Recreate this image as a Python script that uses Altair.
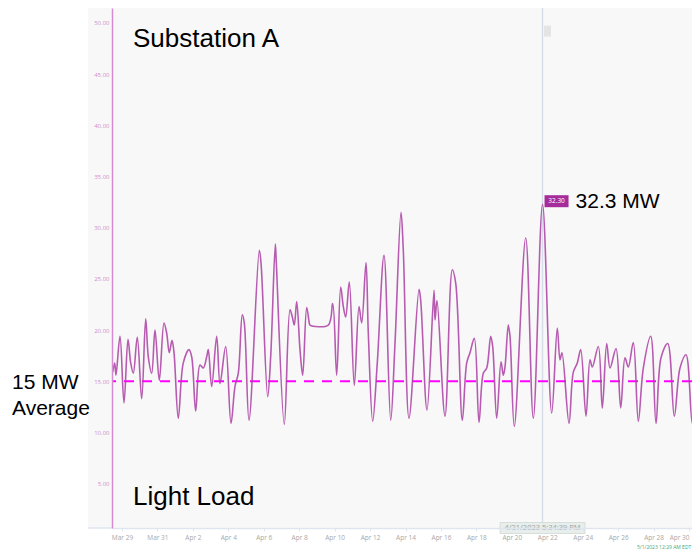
import altair as alt
import pandas as pd
import numpy as np

# Days since 2023-03-28 00:00 and load in MW
t_days = [0.475, 0.588, 0.661, 0.887, 1.113, 1.339, 1.491, 1.638, 1.863, 2.112,
          2.337, 2.484, 2.676, 2.862, 3.105, 3.370, 3.523, 3.669, 3.822, 3.935,
          4.177, 4.459, 4.781, 4.933, 5.159, 5.402, 5.588, 5.780, 5.870, 6.062,
          6.344, 6.531, 6.852, 7.151, 7.377, 7.563, 7.789, 7.902, 8.167, 8.748,
          8.844, 9.222, 9.391, 9.651, 9.708, 10.159, 10.481, 10.611, 10.724, 10.859,
          11.045, 11.198, 11.423, 11.570, 11.610, 12.642, 12.891, 13.116, 13.342, 13.489,
          13.624, 13.827, 14.110, 14.375, 14.527, 14.770, 14.900, 15.148, 15.407, 15.786,
          16.164, 16.406, 16.745, 16.875, 17.196, 17.761, 17.857, 18.212, 18.607, 18.664,
          18.777, 19.228, 19.640, 19.832, 20.205, 20.453, 20.639, 20.882, 21.147, 21.390,
          21.582, 21.807, 21.920, 22.146, 22.389, 22.518, 22.614, 22.800, 22.896, 23.139,
          23.782, 24.211, 24.732, 25.249, 25.565, 25.718, 25.831, 26.226, 26.469, 26.695,
          26.886, 27.185, 27.411, 27.541, 27.880, 28.105, 28.354, 28.540, 28.879, 29.144,
          29.386, 29.573, 29.855, 30.137, 30.419, 30.837, 31.135, 31.418, 31.796, 32.168,
          32.490, 32.829, 33.184, 33.523, 33.620]
mw = [15.9, 16.8, 15.6, 19.4, 12.9, 19.1, 16.8, 15.8, 19.3, 13.3,
      21.1, 17.4, 15.8, 20.0, 15.1, 20.7, 19.7, 17.8, 19.0, 17.8,
      11.4, 16.8, 18.1, 17.4, 12.1, 16.6, 16.3, 17.4, 18.1, 14.5,
      19.4, 14.8, 18.4, 10.9, 14.5, 15.8, 21.5, 20.7, 11.2, 27.8,
      26.6, 13.5, 17.4, 28.4, 26.6, 10.8, 22.0, 21.3, 20.5, 22.8,
      18.1, 15.6, 22.2, 20.7, 20.5, 20.5, 22.6, 15.6, 24.2, 22.3,
      21.3, 24.7, 14.6, 22.3, 20.7, 26.6, 19.7, 11.1, 16.8, 27.3,
      11.2, 18.7, 31.5, 27.8, 11.4, 24.0, 22.9, 12.2, 23.9, 21.0,
      22.9, 11.6, 25.9, 24.6, 11.2, 16.8, 17.8, 19.2, 11.0, 15.8,
      16.3, 19.4, 18.4, 11.4, 16.9, 15.6, 16.4, 20.5, 19.4, 10.6,
      29.0, 11.4, 32.3, 11.9, 20.2, 17.1, 17.8, 10.9, 15.9, 16.8,
      18.1, 11.6, 17.1, 16.4, 18.4, 12.4, 18.7, 16.3, 18.2, 12.4,
      17.3, 16.4, 18.8, 11.1, 16.3, 19.4, 10.9, 17.3, 18.7, 11.6,
      16.3, 17.6, 10.9, 17.6, 16.8]

average_mw = 15
peak_mw = 32.3
cursor_day = 24.732   # 4/21/2023 5:34:39 PM
cursor_label = "4/21/2023 5:34:39 PM"
stamp_label = "5/1/2023 12:29 AM EDT"
y_ticks = [5, 10, 15, 20, 25, 30, 35, 40, 45, 50]

DAY_MS = 86400000.0
base_ms = (pd.Timestamp("2023-03-28") - pd.Timestamp("1970-01-01")).total_seconds() * 1000.0

df = pd.DataFrame({"time": base_ms + np.array(t_days) * DAY_MS, "mw": mw})
cur = pd.DataFrame({"time": [base_ms + cursor_day * DAY_MS], "mw": [peak_mw]})
one = pd.DataFrame({"a": [0]})

x_vals = [alt.DateTime(year=2023, month=3, date=d, utc=True) for d in (29, 31)] + \
         [alt.DateTime(year=2023, month=4, date=d, utc=True) for d in range(2, 31, 2)]

x_scale = alt.Scale(type="utc",
                    domain=[alt.DateTime(year=2023, month=3, date=28, hours=10, minutes=28, utc=True),
                            alt.DateTime(year=2023, month=4, date=30, hours=4, minutes=0, utc=True)])
y_scale = alt.Scale(domain=[0.68, 51.46], nice=False, zero=False)

x_axis = alt.Axis(values=x_vals, format="%b %-d", title=None, labelColor="#a8a8a8",
                  labelFontSize=6.5, labelFont="Open Sans", domainColor="#dfe5ef",
                  domainWidth=1.5, tickColor="#dfe5ef", tickSize=3, labelPadding=3,
                  grid=False, labelOverlap=False, zindex=1,
                  labelAlign=alt.expr("datum.index > 0.99 ? 'right' : 'center'"))
y_axis = alt.Axis(values=y_ticks, format=".2f", title=None, labelColor="#d08ccd",
                  labelFontSize=6, labelFont="Open Sans", domainColor="#d58bd1",
                  domainWidth=1.5, ticks=False, labelPadding=3, grid=False, zindex=1)

X = alt.X("time:T", scale=x_scale, axis=x_axis)
Y = alt.Y("mw:Q", scale=y_scale, axis=y_axis)

panel_ext = alt.Chart(one).mark_rect(color="#f8f8f8").encode(
    x=alt.value(-24), x2=alt.value(0), y=alt.value(0), y2=alt.value(520))
xline_ext = alt.Chart(one).mark_rule(color="#dfe5ef", strokeWidth=1.5).encode(
    x=alt.value(-24), x2=alt.value(0), y=alt.value(520))

cursor = alt.Chart(cur).mark_rule(color="#d6dee9", strokeWidth=1.5).encode(x=X)
avg = alt.Chart(one).mark_rule(color="#ff00ff", strokeWidth=2, strokeDash=[10, 8]).encode(
    y=alt.Y(datum=average_mw, type="quantitative", scale=y_scale, axis=y_axis))

line = alt.Chart(df).mark_line(color="#ac3fa5", strokeWidth=1.6, opacity=0.85,
                               interpolate="catmull-rom", clip=True).encode(x=X, y=Y)

top_box = alt.Chart(cur).mark_rect(width=7, height=11, color="#e4e4e4", xOffset=5).encode(
    x=X, y=alt.Y(datum=49.2, type="quantitative", scale=y_scale, axis=y_axis))
val_box = alt.Chart(cur).mark_rect(width=24, height=12, color="#a62c9b", xOffset=14,
                                   yOffset=-3).encode(x=X, y=Y)
val_txt = alt.Chart(cur).mark_text(text="32.30", color="white", fontSize=6.5, dx=14, dy=-3,
                                   font="Open Sans").encode(x=X, y=Y)
peak_txt = alt.Chart(cur).mark_text(text="32.3 MW", color="black", fontSize=21, align="left",
                                    baseline="alphabetic", dx=33, dy=4,
                                    font="Liberation Sans").encode(x=X, y=Y)

bot_box = alt.Chart(cur).mark_rect(width=85, height=11, color="#e8eeeb", stroke="#cfd9d4",
                                   strokeWidth=0.8).encode(x=X, y=alt.value(520))
bot_txt = alt.Chart(cur).mark_text(text=cursor_label, color="#9aa3a0", fontSize=7.5,
                                   font="Open Sans").encode(x=X, y=alt.value(520))

def label(txt, x, y, size, align="left", color="black", font="Liberation Sans"):
    return alt.Chart(one).mark_text(text=txt, fontSize=size, align=align, baseline="alphabetic",
                                    color=color, font=font).encode(x=alt.value(x), y=alt.value(y))

texts = [
    label("Substation A", 21, 39, 26),
    label("Light Load", 21, 497, 26),
    label("15 MW", -100, 381, 21),
    label("Average", -100, 407, 21),
    label(stamp_label, 525, 541, 5.0, color="#47a877", font="Open Sans"),
]

chart = alt.layer(panel_ext, xline_ext, cursor, avg, line, top_box, val_box, val_txt,
                  peak_txt, bot_box, bot_txt, *texts).properties(
    width=580, height=520,
    autosize=alt.AutoSizeParams(type="none"),
    padding={"left": 104, "top": 0, "right": 0, "bottom": 25},
    background="white",
).configure_view(fill="#f8f8f8", stroke=None)

chart.save("out.html", embed_options={"renderer": "svg", "actions": False})
